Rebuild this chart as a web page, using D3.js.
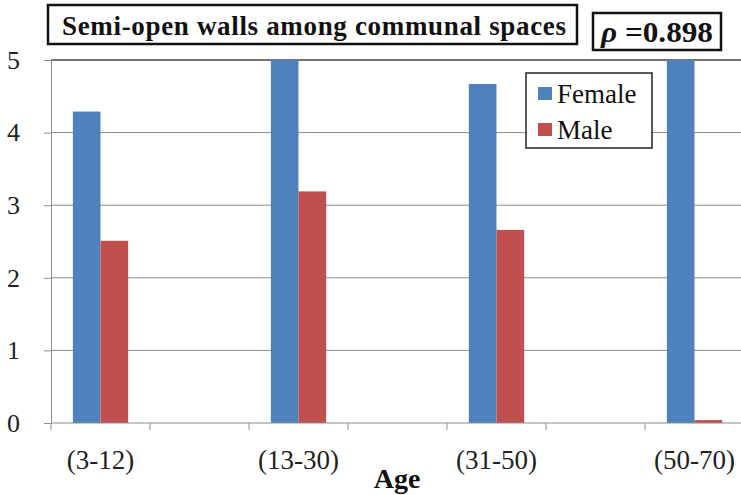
<!DOCTYPE html>
<html>
<head>
<meta charset="utf-8">
<script src="https://cdn.jsdelivr.net/npm/d3@7"></script>
<style>
  body { margin: 0; background: #fff; }
  svg { display: block; }
  svg text { font-family: "Liberation Serif", Tinos, "Times New Roman", Times, "DejaVu Serif", serif; }
</style>
</head>
<body>
<svg id="chart" width="741" height="495"></svg>
<script>
// data
const categories = ["(3-12)", "(13-30)", "(31-50)", "(50-70)"];
const series = ["Female", "Male"];
const female = [4.29, 5.0, 4.67, 5.0];
const male = [2.51, 3.19, 2.66, 0.04];
const yTicks = [0, 1, 2, 3, 4, 5];
const colors = { Female: "#4F81BD", Male: "#C0504D" };

const svg = d3.select("#chart");
const plotLeft = 51, plotTop = 60, plotBottom = 423;

// each category spans two axis slots, last one runs past the right edge
const x = d3.scaleBand().domain(categories).range([plotLeft, plotLeft + 4 * 198]);
const xSub = d3.scaleBand().domain(series)
  .range([0, x.bandwidth() / 2]).paddingInner(0).paddingOuter(0.79);
const y = d3.scaleLinear().domain([0, 5]).range([plotBottom, plotTop]);

// gridlines
svg.append("g")
  .selectAll("line")
  .data(yTicks.filter(d => d > 0))
  .enter()
  .append("line")
  .attr("x1", plotLeft)
  .attr("x2", 741)
  .attr("y1", d => y(d))
  .attr("y2", d => y(d))
  .attr("stroke", d => d === 5 ? "#444" : "#8c8c8c")
  .attr("stroke-width", d => d === 5 ? 1.5 : 1);

// y axis
const yAxis = svg.append("g")
  .attr("transform", "translate(" + plotLeft + ",0)")
  .call(d3.axisLeft(y).tickValues(yTicks).tickFormat(d3.format("d")).tickSize(7).tickPadding(24));
yAxis.attr("font-family", null);
yAxis.select(".domain").attr("stroke", "#8c8c8c");
yAxis.selectAll(".tick line").attr("stroke", "#8c8c8c");
yAxis.selectAll(".tick text")
  .attr("font-size", 26)
  .attr("fill", "#222");

// bars
const rows = categories.map((c, i) => ({ cat: c, Female: female[i], Male: male[i] }));
const groups = svg.append("g")
  .selectAll("g")
  .data(rows)
  .enter()
  .append("g")
  .attr("transform", d => "translate(" + x(d.cat) + ",0)");

groups.selectAll("rect")
  .data(d => series.map(s => ({ key: s, value: d[s] })))
  .enter()
  .append("rect")
  .attr("x", d => xSub(d.key))
  .attr("width", xSub.bandwidth())
  .attr("y", d => y(d.value))
  .attr("height", d => y(0) - y(d.value))
  .attr("fill", d => colors[d.key]);

// x axis line and ticks (two slots per category)
svg.append("line")
  .attr("x1", plotLeft).attr("x2", 741)
  .attr("y1", plotBottom).attr("y2", plotBottom)
  .attr("stroke", "#8c8c8c");

const tickPos = categories.flatMap(c => [x(c), x(c) + x.bandwidth() / 2]);
svg.append("g")
  .selectAll("line")
  .data(tickPos)
  .enter()
  .append("line")
  .attr("x1", d => d).attr("x2", d => d)
  .attr("y1", plotBottom).attr("y2", plotBottom + 7)
  .attr("stroke", "#8c8c8c");

svg.append("g")
  .selectAll("text")
  .data(categories)
  .enter()
  .append("text")
  .attr("x", d => x(d) + x.bandwidth() / 4)
  .attr("y", 469)
  .attr("text-anchor", "middle")
  .attr("font-size", 27)
  .attr("fill", "#222")
  .text(d => d);

svg.append("text")
  .attr("x", 397)
  .attr("y", 488)
  .attr("text-anchor", "middle")
  .attr("font-size", 28)
  .attr("font-weight", "bold")
  .attr("fill", "#111")
  .text("Age");

// legend
const legend = svg.append("g");
legend.append("rect")
  .attr("x", 526).attr("y", 73)
  .attr("width", 126).attr("height", 75)
  .attr("fill", "#fff").attr("stroke", "#222").attr("stroke-width", 1.5);
series.forEach((s, i) => {
  legend.append("rect")
    .attr("x", 538).attr("y", 87 + i * 36)
    .attr("width", 14).attr("height", 13)
    .attr("fill", colors[s]);
  legend.append("text")
    .attr("x", 557).attr("y", 103 + i * 36)
    .attr("font-size", 27)
    .attr("fill", "#111")
    .text(s);
});

// title box
svg.append("rect")
  .attr("x", 48).attr("y", 5)
  .attr("width", 529).attr("height", 39)
  .attr("fill", "#fff").attr("stroke", "#111").attr("stroke-width", 2.5);
svg.append("text")
  .attr("x", 62).attr("y", 35)
  .attr("font-size", 27)
  .attr("font-weight", "bold")
  .attr("fill", "#111")
  .attr("textLength", 504)
  .attr("lengthAdjust", "spacing")
  .text("Semi-open walls among communal spaces");

// rho box
svg.append("rect")
  .attr("x", 593).attr("y", 13)
  .attr("width", 128).attr("height", 37)
  .attr("fill", "#fff").attr("stroke", "#111").attr("stroke-width", 2.5);
const rho = svg.append("text")
  .attr("x", 601).attr("y", 42)
  .attr("font-size", 29)
  .attr("font-weight", "bold")
  .attr("fill", "#111")
  .attr("textLength", 112)
  .attr("lengthAdjust", "spacingAndGlyphs");
rho.append("tspan").attr("font-style", "italic").text("ρ");
rho.append("tspan").text(" =0.898");
</script>
</body>
</html>
